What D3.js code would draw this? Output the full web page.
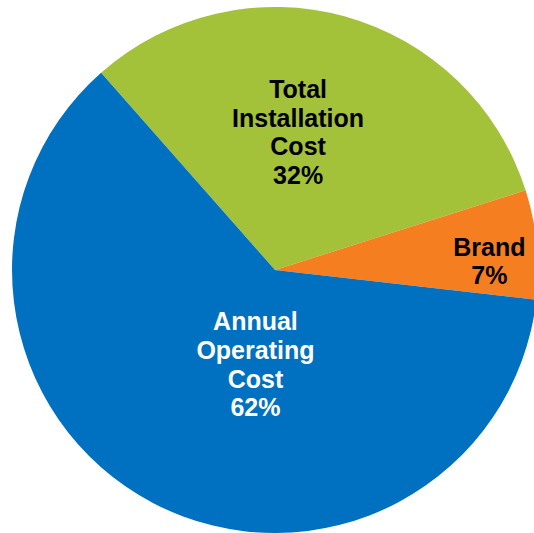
<!DOCTYPE html>
<html>
<head>
<meta charset="utf-8">
<script src="https://d3js.org/d3.v7.min.js"></script>
<style>
	body { margin: 0; background: #fff; }
	svg { display: block; }
</style>
</head>
<body>
<div id="chart"></div>
<script>

// data
var categories = ["Total Installation Cost", "Brand", "Annual Operating Cost"];
var shares = [31.6, 6.7, 61.7];		// slice sizes
var pctLabels = ["32%", "7%", "62%"];	// printed percentages
var colors = ["#A3C139", "#F47E20", "#0070C0"];
var textColors = ["#000", "#000", "#fff"];
var labelLines = [["Total", "Installation", "Cost"], ["Brand"], ["Annual", "Operating", "Cost"]];

// label anchor: [angle in degrees from 12 o'clock, distance as fraction of radius]
var labelAnchor = [[9.5, 0.532], [87.6, 0.816], [191.7, 0.367]];

var width = 534, height = 533,
	cx = 275, cy = 270, radius = 263,
	fontSize = 25, lineH = 28.7, capH = 17.8;

var svg = d3.select("#chart").append("svg")
	.attr("width", width)
	.attr("height", height);

var g = svg.append("g")
	.attr("transform", "translate(" + cx + "," + cy + ")");

var pie = d3.pie()
	.sort(null)
	.startAngle(-41.4 * Math.PI / 180)
	.endAngle((360 - 41.4) * Math.PI / 180);

var arc = d3.arc().innerRadius(0).outerRadius(radius);

var arcs = pie(shares);

g.selectAll("path.slice")
	.data(arcs).enter()
	.append("path")
		.attr("class", "slice")
		.attr("d", arc)
		.attr("fill", function(d,i){ return colors[i]; });

// labels
arcs.forEach(function(d,i){
	var a = labelAnchor[i][0] * Math.PI / 180,
		r = labelAnchor[i][1] * radius,
		x = Math.sin(a) * r,
		y = -Math.cos(a) * r;
	var lines = labelLines[i].concat([pctLabels[i]]);
	var y0 = y - (lines.length - 1) * lineH / 2 + capH / 2;
	var t = g.append("text")
		.attr("text-anchor", "middle")
		.attr("font-family", "'Liberation Sans', Arial, sans-serif")
		.attr("font-weight", "bold")
		.attr("font-size", fontSize)
		.attr("fill", textColors[i]);
	lines.forEach(function(s,j){
		t.append("tspan")
			.attr("x", x)
			.attr("y", y0 + j * lineH)
			.text(s);
	});
});

</script>
</body>
</html>
